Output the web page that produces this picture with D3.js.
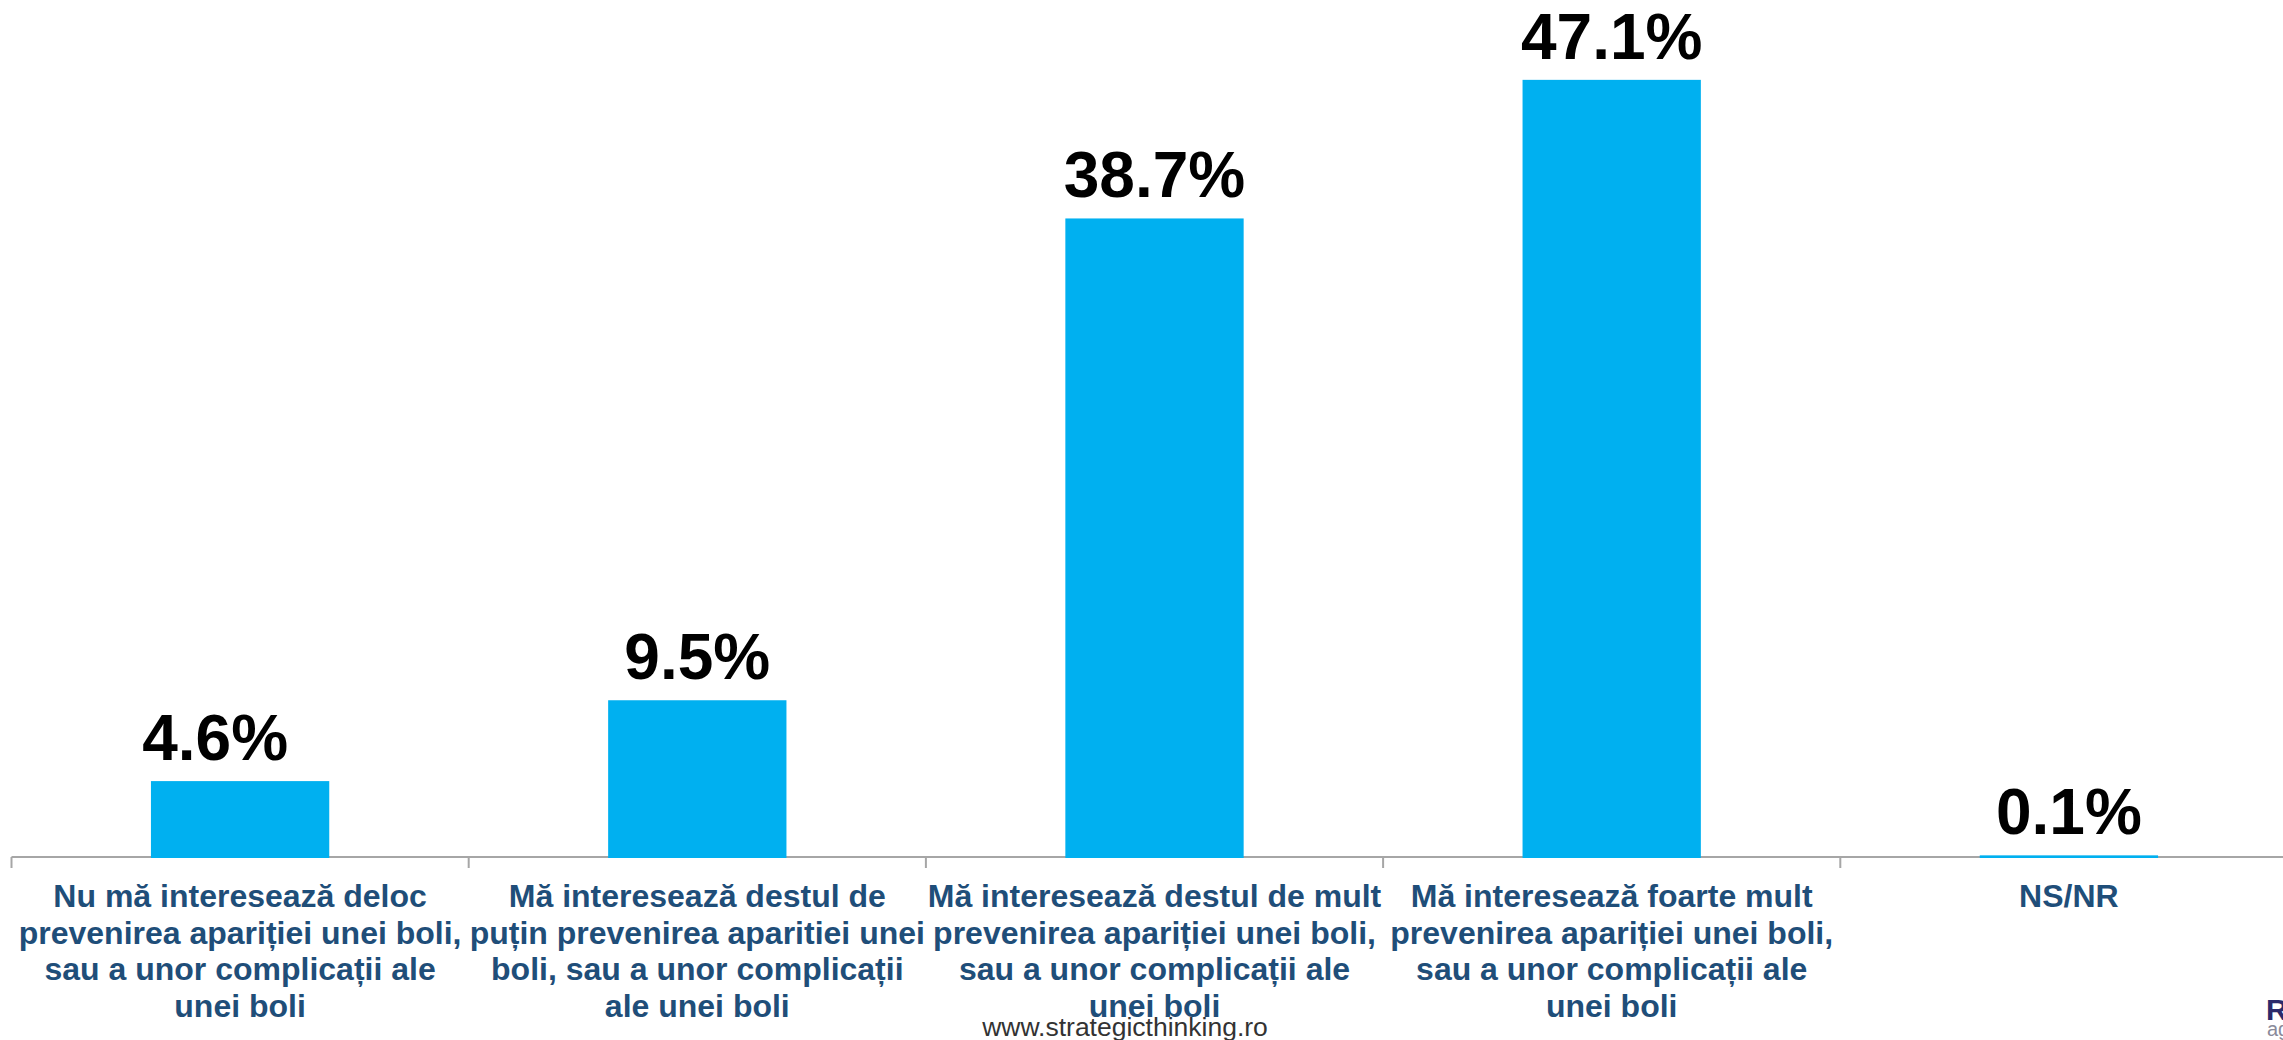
<!DOCTYPE html>
<html>
<head>
<meta charset="utf-8">
<script src="https://cdn.jsdelivr.net/npm/d3@7"></script>
<style>
  html, body { margin: 0; padding: 0; background: #fff; overflow: hidden; }
  svg { display: block; }
</style>
</head>
<body>
<svg id="chart" width="2283" height="1040"></svg>
<script>
// ---- data ----
const categories = ["c1", "c2", "c3", "c4", "c5"];
const categoryLabels = [
  ["Nu mă interesează deloc", "prevenirea apariției unei boli,", "sau a unor complicații ale", "unei boli"],
  ["Mă interesează destul de", "puțin prevenirea aparitiei unei", "boli, sau a unor complicații", "ale unei boli"],
  ["Mă interesează destul de mult", "prevenirea apariției unei boli,", "sau a unor complicații ale", "unei boli"],
  ["Mă interesează foarte mult", "prevenirea apariției unei boli,", "sau a unor complicații ale", "unei boli"],
  ["NS/NR"]
];
const values = [4.6, 9.5, 38.7, 47.1, 0.1];
const valueLabels = ["4.6%", "9.5%", "38.7%", "47.1%", "0.1%"];
const footerText = "www.strategicthinking.ro";

// ---- layout ----
const svg = d3.select("#chart");
const axisY = 857;
const left = 11.5, step = 457.2;
const x = d3.scaleBand()
  .domain(categories)
  .range([left, left + step * categories.length])
  .paddingInner(0.61)
  .paddingOuter(0.305);
const y = d3.scaleLinear().domain([0, 50]).range([axisY, axisY - 50 * 16.5]);

// axis line + boundary ticks
const g = svg.append("g");
g.append("line")
  .attr("x1", left).attr("x2", 2283)
  .attr("y1", axisY).attr("y2", axisY)
  .attr("stroke", "#A6A6A6").attr("stroke-width", 2);
const boundaries = categories.map(c => x(c) - x.step() * x.paddingInner() / 2);
g.selectAll("line.tick")
  .data(boundaries)
  .enter().append("line")
  .attr("class", "tick")
  .attr("x1", d => d).attr("x2", d => d)
  .attr("y1", axisY).attr("y2", axisY + 11)
  .attr("stroke", "#A6A6A6").attr("stroke-width", 2);

// bars
svg.selectAll("rect.bar")
  .data(values)
  .enter().append("rect")
  .attr("class", "bar")
  .attr("x", (d, i) => x(categories[i]))
  .attr("width", x.bandwidth())
  .attr("y", d => y(d))
  .attr("height", d => axisY - y(d) + 1)
  .attr("fill", "#00B0F0");

// value labels (first label sits slightly left of its bar in the original)
svg.selectAll("text.val")
  .data(values)
  .enter().append("text")
  .attr("class", "val")
  .attr("x", (d, i) => x(categories[i]) + x.bandwidth() / 2 + (i === 0 ? -25 : 0))
  .attr("y", d => y(d) - 21)
  .attr("text-anchor", "middle")
  .attr("font-family", "Liberation Sans, Arial, sans-serif")
  .attr("font-weight", "bold")
  .attr("font-size", 64)
  .attr("fill", "#000")
  .text((d, i) => valueLabels[i]);

// category labels
const catG = svg.selectAll("text.cat")
  .data(categoryLabels)
  .enter().append("text")
  .attr("class", "cat")
  .attr("x", (d, i) => x(categories[i]) + x.bandwidth() / 2)
  .attr("y", 907)
  .attr("text-anchor", "middle")
  .attr("font-family", "Liberation Sans, Arial, sans-serif")
  .attr("font-weight", "bold")
  .attr("font-size", 32)
  .attr("fill", "#1F4E79");
catG.each(function(lines, i) {
  const t = d3.select(this);
  lines.forEach((ln, j) => {
    t.append("tspan")
      .attr("x", x(categories[i]) + x.bandwidth() / 2)
      .attr("y", 907 + j * 36.5)
      .text(ln);
  });
});

// footer
svg.append("text")
  .attr("x", 1125).attr("y", 1036)
  .attr("text-anchor", "middle")
  .attr("font-family", "Liberation Sans, Arial, sans-serif")
  .attr("font-size", 26.5)
  .attr("fill", "#333")
  .text(footerText);

// partial logo at bottom right
svg.append("text")
  .attr("x", 2266).attr("y", 1020)
  .attr("font-family", "Liberation Sans, Arial, sans-serif")
  .attr("font-weight", "bold")
  .attr("font-size", 30)
  .attr("fill", "#2B2A6B")
  .text("R");
svg.append("text")
  .attr("x", 2267).attr("y", 1036)
  .attr("font-family", "Liberation Sans, Arial, sans-serif")
  .attr("font-size", 20)
  .attr("fill", "#8a8a9a")
  .text("ag");
</script>
</body>
</html>
